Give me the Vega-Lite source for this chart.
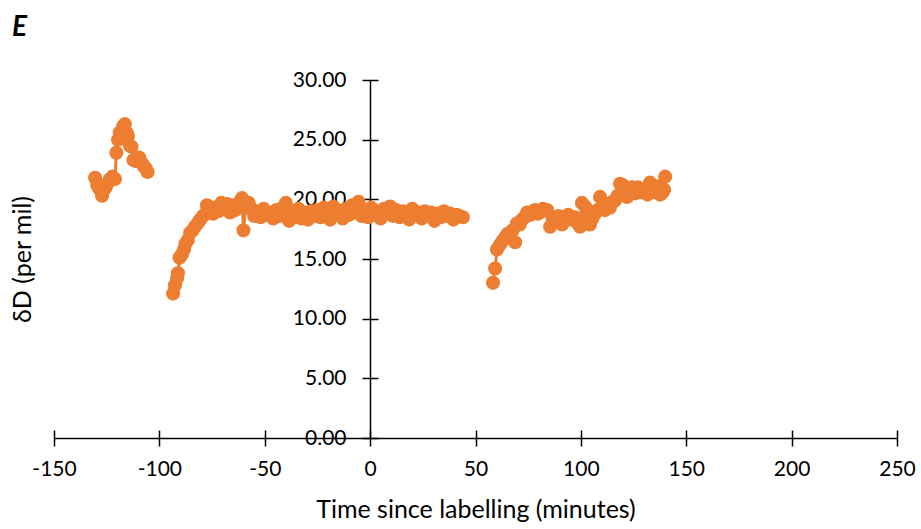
{
  "$schema": "https://vega.github.io/schema/vega-lite/v6.json",
  "width": 843,
  "height": 358,
  "autosize": "none",
  "padding": {"left": 54, "top": 80, "right": 24, "bottom": 91},
  "background": "white",
  "title": {"text": "E", "anchor": "start", "frame": "group", "font": "Lato", "fontSize": 28, "fontWeight": "bold", "fontStyle": "italic", "color": "black", "baseline": "alphabetic", "offset": 0, "dx": -42, "dy": -5},
  "config": {"view": {"stroke": null}, "font": "Lato"},
  "data": {"values": [
    {"t": -130.5, "d": 21.8, "s": 1}, {"t": -129.5, "d": 21.2, "s": 1}, {"t": -128.6, "d": 20.9, "s": 1}, {"t": -127.2, "d": 20.3, "s": 1}, {"t": -126.3, "d": 20.8, "s": 1}, {"t": -125.5, "d": 21.0, "s": 1}, {"t": -124.4, "d": 21.4, "s": 1}, {"t": -123.4, "d": 21.7, "s": 1}, {"t": -122.3, "d": 21.9, "s": 1}, {"t": -121.1, "d": 21.7, "s": 1}, {"t": -120.4, "d": 23.9, "s": 1}, {"t": -119.6, "d": 25.0, "s": 1}, {"t": -118.8, "d": 25.6, "s": 1}, {"t": -118.0, "d": 25.3, "s": 1}, {"t": -117.2, "d": 26.1, "s": 1}, {"t": -116.4, "d": 26.3, "s": 1}, {"t": -115.6, "d": 25.6, "s": 1}, {"t": -114.9, "d": 25.3, "s": 1}, {"t": -114.0, "d": 24.5, "s": 1}, {"t": -113.2, "d": 24.4, "s": 1}, {"t": -112.3, "d": 23.3, "s": 1}, {"t": -111.0, "d": 23.2, "s": 1}, {"t": -109.6, "d": 23.5, "s": 1}, {"t": -108.6, "d": 23.1, "s": 1}, {"t": -107.4, "d": 22.8, "s": 1}, {"t": -106.5, "d": 22.6, "s": 1}, {"t": -105.6, "d": 22.3, "s": 1},
    {"t": -93.5, "d": 12.1, "s": 2}, {"t": -92.6, "d": 12.8, "s": 2}, {"t": -91.6, "d": 13.4, "s": 2}, {"t": -91.2, "d": 13.8, "s": 2}, {"t": -90.4, "d": 15.1, "s": 2}, {"t": -89.3, "d": 15.4, "s": 2}, {"t": -88.3, "d": 15.8, "s": 2}, {"t": -87.6, "d": 16.3, "s": 2}, {"t": -86.5, "d": 16.6, "s": 2}, {"t": -85.4, "d": 17.2, "s": 2}, {"t": -84.2, "d": 17.4, "s": 2}, {"t": -83.1, "d": 17.7, "s": 2}, {"t": -81.8, "d": 18.0, "s": 2}, {"t": -80.6, "d": 18.3, "s": 2}, {"t": -79.3, "d": 18.6, "s": 2}, {"t": -78.2, "d": 18.8, "s": 2}, {"t": -77.4, "d": 19.5, "s": 2}, {"t": -76.0, "d": 19.0, "s": 2}, {"t": -74.6, "d": 18.8, "s": 2}, {"t": -73.4, "d": 19.3, "s": 2}, {"t": -72.0, "d": 19.0, "s": 2}, {"t": -70.6, "d": 19.7, "s": 2}, {"t": -69.2, "d": 19.4, "s": 2}, {"t": -67.8, "d": 19.6, "s": 2}, {"t": -66.5, "d": 18.9, "s": 2}, {"t": -65.3, "d": 19.5, "s": 2}, {"t": -64.0, "d": 19.1, "s": 2}, {"t": -62.6, "d": 19.6, "s": 2}, {"t": -61.4, "d": 19.9, "s": 2}, {"t": -60.8, "d": 20.1, "s": 2}, {"t": -60.1, "d": 17.4, "s": 2}, {"t": -59.0, "d": 19.4, "s": 2}, {"t": -57.6, "d": 19.7, "s": 2},
    {"t": -56.5, "d": 19.2, "s": 2}, {"t": -55.0, "d": 18.6, "s": 2}, {"t": -53.5, "d": 19.0, "s": 2}, {"t": -52.0, "d": 18.5, "s": 2}, {"t": -50.5, "d": 19.2, "s": 2}, {"t": -49.0, "d": 18.7, "s": 2}, {"t": -47.5, "d": 18.9, "s": 2}, {"t": -46.0, "d": 18.4, "s": 2}, {"t": -44.5, "d": 19.1, "s": 2}, {"t": -43.0, "d": 18.6, "s": 2}, {"t": -41.5, "d": 19.3, "s": 2}, {"t": -40.0, "d": 19.7, "s": 2}, {"t": -38.5, "d": 18.2, "s": 2}, {"t": -37.0, "d": 19.0, "s": 2}, {"t": -35.5, "d": 18.5, "s": 2}, {"t": -34.0, "d": 19.2, "s": 2}, {"t": -32.5, "d": 18.4, "s": 2}, {"t": -31.0, "d": 18.9, "s": 2}, {"t": -29.5, "d": 18.3, "s": 2}, {"t": -28.0, "d": 19.0, "s": 2}, {"t": -26.5, "d": 18.6, "s": 2}, {"t": -25.0, "d": 19.1, "s": 2}, {"t": -23.5, "d": 18.5, "s": 2}, {"t": -22.0, "d": 19.3, "s": 2}, {"t": -20.5, "d": 18.7, "s": 2}, {"t": -19.0, "d": 18.3, "s": 2}, {"t": -17.5, "d": 19.4, "s": 2}, {"t": -16.0, "d": 18.8, "s": 2}, {"t": -14.5, "d": 19.0, "s": 2}, {"t": -13.0, "d": 18.4, "s": 2}, {"t": -11.5, "d": 19.2, "s": 2}, {"t": -10.0, "d": 18.7, "s": 2}, {"t": -8.5, "d": 19.5, "s": 2}, {"t": -7.0, "d": 18.9, "s": 2}, {"t": -5.5, "d": 19.8, "s": 2}, {"t": -4.0, "d": 18.6, "s": 2}, {"t": -2.5, "d": 19.1, "s": 2}, {"t": -1.0, "d": 18.5, "s": 2}, {"t": 0.5, "d": 19.3, "s": 2}, {"t": 2.0, "d": 18.7, "s": 2}, {"t": 3.5, "d": 19.0, "s": 2}, {"t": 5.0, "d": 18.4, "s": 2}, {"t": 6.5, "d": 19.2, "s": 2}, {"t": 8.0, "d": 18.8, "s": 2}, {"t": 9.5, "d": 19.4, "s": 2}, {"t": 11.0, "d": 18.6, "s": 2}, {"t": 12.5, "d": 19.1, "s": 2}, {"t": 14.0, "d": 18.5, "s": 2}, {"t": 15.5, "d": 19.0, "s": 2}, {"t": 17.0, "d": 18.9, "s": 2}, {"t": 18.5, "d": 18.3, "s": 2}, {"t": 20.0, "d": 19.2, "s": 2}, {"t": 21.5, "d": 18.7, "s": 2}, {"t": 23.0, "d": 18.9, "s": 2}, {"t": 24.5, "d": 18.4, "s": 2}, {"t": 26.0, "d": 19.0, "s": 2}, {"t": 27.5, "d": 18.6, "s": 2}, {"t": 29.0, "d": 18.9, "s": 2}, {"t": 30.5, "d": 18.2, "s": 2}, {"t": 32.0, "d": 18.8, "s": 2}, {"t": 33.5, "d": 18.5, "s": 2}, {"t": 35.0, "d": 19.0, "s": 2}, {"t": 36.5, "d": 18.6, "s": 2}, {"t": 38.0, "d": 18.8, "s": 2}, {"t": 39.5, "d": 18.3, "s": 2}, {"t": 41.0, "d": 18.7, "s": 2}, {"t": 42.5, "d": 18.6, "s": 2}, {"t": 44.0, "d": 18.5, "s": 2},
    {"t": 58.3, "d": 13.0, "s": 3}, {"t": 59.3, "d": 14.2, "s": 3}, {"t": 60.2, "d": 15.8, "s": 3}, {"t": 61.6, "d": 16.2, "s": 3}, {"t": 62.8, "d": 16.5, "s": 3}, {"t": 64.0, "d": 16.8, "s": 3}, {"t": 65.2, "d": 17.1, "s": 3}, {"t": 66.4, "d": 17.0, "s": 3}, {"t": 67.6, "d": 17.4, "s": 3}, {"t": 68.8, "d": 16.4, "s": 3}, {"t": 69.7, "d": 18.0, "s": 3}, {"t": 71.0, "d": 17.9, "s": 3}, {"t": 72.1, "d": 18.3, "s": 3}, {"t": 73.3, "d": 18.5, "s": 3}, {"t": 74.5, "d": 18.9, "s": 3}, {"t": 76.0, "d": 18.7, "s": 3}, {"t": 77.2, "d": 19.0, "s": 3}, {"t": 78.3, "d": 19.1, "s": 3}, {"t": 79.5, "d": 18.8, "s": 3}, {"t": 80.6, "d": 18.9, "s": 3}, {"t": 82.0, "d": 19.2, "s": 3}, {"t": 84.0, "d": 19.1, "s": 3}, {"t": 85.4, "d": 17.7, "s": 3}, {"t": 86.6, "d": 18.4, "s": 3}, {"t": 87.8, "d": 18.1, "s": 3}, {"t": 89.4, "d": 18.6, "s": 3}, {"t": 91.1, "d": 17.9, "s": 3}, {"t": 92.5, "d": 18.5, "s": 3}, {"t": 94.0, "d": 18.7, "s": 3}, {"t": 95.3, "d": 18.3, "s": 3}, {"t": 97.2, "d": 18.5, "s": 3}, {"t": 98.6, "d": 18.0, "s": 3}, {"t": 99.6, "d": 17.7, "s": 3}, {"t": 100.5, "d": 19.7, "s": 3}, {"t": 102.0, "d": 19.4, "s": 3}, {"t": 103.2, "d": 18.6, "s": 3}, {"t": 104.3, "d": 17.9, "s": 3}, {"t": 105.5, "d": 18.4, "s": 3}, {"t": 106.7, "d": 18.8, "s": 3}, {"t": 107.9, "d": 19.1, "s": 3}, {"t": 109.1, "d": 20.2, "s": 3}, {"t": 110.3, "d": 19.4, "s": 3}, {"t": 111.4, "d": 19.1, "s": 3}, {"t": 112.6, "d": 19.6, "s": 3}, {"t": 113.8, "d": 19.3, "s": 3}, {"t": 115.0, "d": 19.8, "s": 3}, {"t": 116.2, "d": 19.9, "s": 3}, {"t": 117.4, "d": 20.3, "s": 3}, {"t": 118.6, "d": 21.3, "s": 3}, {"t": 119.8, "d": 21.2, "s": 3}, {"t": 120.8, "d": 20.6, "s": 3}, {"t": 121.9, "d": 20.2, "s": 3}, {"t": 123.1, "d": 20.7, "s": 3}, {"t": 124.3, "d": 21.0, "s": 3}, {"t": 125.7, "d": 20.5, "s": 3}, {"t": 127.1, "d": 21.0, "s": 3}, {"t": 128.7, "d": 20.6, "s": 3}, {"t": 130.4, "d": 20.8, "s": 3}, {"t": 131.6, "d": 20.4, "s": 3}, {"t": 132.8, "d": 21.4, "s": 3}, {"t": 134.0, "d": 20.9, "s": 3}, {"t": 135.2, "d": 20.6, "s": 3}, {"t": 136.4, "d": 21.1, "s": 3}, {"t": 137.6, "d": 20.4, "s": 3}, {"t": 138.8, "d": 20.6, "s": 3}, {"t": 139.5, "d": 20.8, "s": 3}, {"t": 140.0, "d": 21.9, "s": 3}
  ]},
  "resolve": {"axis": {"x": "independent", "y": "independent"}},
  "layer": [
    {
      "mark": {"type": "line", "color": "#ED7D31", "strokeWidth": 3},
      "encoding": {
        "x": {"field": "t", "type": "quantitative", "scale": {"domain": [-150, 250], "nice": false, "zero": false},
          "axis": {"orient": "bottom", "values": [-150, -100, -50, 0, 50, 100, 150, 200, 250], "labelExpr": "datum.value < 0 ? '-' + format(-datum.value, 'd') : format(datum.value, 'd')", "labelFlush": false, "labelOverlap": false, "grid": false, "domainColor": "black", "domainWidth": 1.5, "tickColor": "black", "tickWidth": 1.5, "tickSize": 8, "labelFont": "Lato", "labelFontSize": 21, "labelColor": "black", "labelPadding": 12, "title": "Time since labelling (minutes)", "titleFont": "Lato", "titleFontSize": 25, "titleFontWeight": "normal", "titleColor": "black", "titlePadding": 18}},
        "y": {"field": "d", "type": "quantitative", "scale": {"domain": [0, 30], "nice": false},
          "axis": {"orient": "left", "offset": -316, "values": [0, 5, 10, 15, 20, 25, 30], "format": ".2f", "labelFlush": false, "labelOverlap": false, "grid": false, "domainColor": "black", "domainWidth": 1.5, "tickColor": "black", "tickWidth": 1.5, "tickSize": 8, "labelFont": "Lato", "labelFontSize": 21, "labelColor": "black", "labelPadding": 16, "title": "δD (per mil)", "titleFont": "Lato", "titleFontSize": 25, "titleFontWeight": "normal", "titleColor": "black", "titleX": -348, "titleBaseline": "middle"}},
        "detail": {"field": "s", "type": "nominal"}
      }
    },
    {
      "mark": {"type": "circle", "color": "#ED7D31", "size": 200, "opacity": 1},
      "encoding": {
        "x": {"field": "t", "type": "quantitative", "axis": null},
        "y": {"field": "d", "type": "quantitative", "axis": null}
      }
    },
    {
      "mark": {"type": "circle", "opacity": 0},
      "encoding": {
        "x": {"field": "t", "type": "quantitative",
          "axis": {"orient": "top", "offset": -358, "values": [-150, -100, -50, 0, 50, 100, 150, 200, 250], "labels": false, "domain": false, "grid": false, "tickColor": "black", "tickWidth": 1.5, "tickSize": 8, "title": null}},
        "y": {"field": "d", "type": "quantitative",
          "axis": {"orient": "right", "offset": -527, "values": [0, 5, 10, 15, 20, 25, 30], "labels": false, "domain": false, "grid": false, "tickColor": "black", "tickWidth": 1.5, "tickSize": 8, "title": null}}
      }
    }
  ]
}
